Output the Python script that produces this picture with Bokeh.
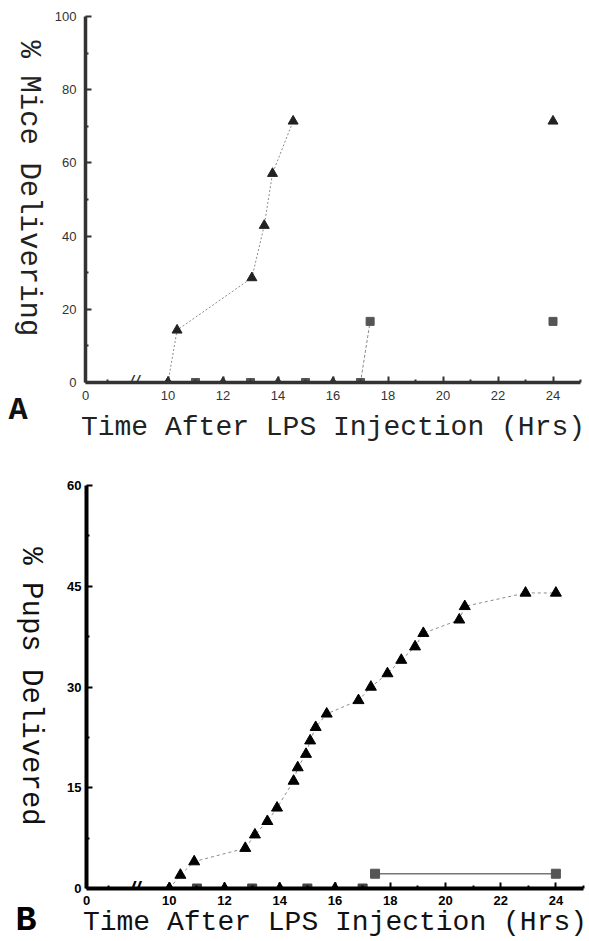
import math
from bokeh.plotting import figure
from bokeh.models import FixedTicker, Label, Range1d
from bokeh.layouts import column, row
from bokeh.core.properties import value
from bokeh.embed import file_html
from bokeh.resources import INLINE

# ---------------- data ----------------
# Panel A: % mice delivering
a_tri_time = [10, 10.33, 13.05, 13.5, 13.8, 14.55]
a_tri_pct = [0, 14.3, 28.6, 42.9, 57.1, 71.4]
a_tri_end_time = [24]
a_tri_end_pct = [71.4]
a_sq_time = [17, 17.35]
a_sq_pct = [0, 16.7]
a_sq_end_time = [24]
a_sq_end_pct = [16.7]

# markers sitting on the zero line (both panels)
zero_tri_time = [10, 12, 14, 16]
zero_tri_pct = [0, 0, 0, 0]
zero_sq_time = [11, 13, 15, 17]
zero_sq_pct = [0, 0, 0, 0]

# Panel B: % pups delivered
b_tri_time = [10, 10.4, 10.9, 12.75, 13.1, 13.55, 13.9, 14.5, 14.65, 14.95, 15.1,
              15.3, 15.7, 16.85, 17.3, 17.9, 18.4, 18.9, 19.2, 20.5, 20.7, 22.9, 24]
b_tri_pct = [0, 2, 4, 6, 8, 10, 12, 16, 18, 20, 22, 24, 26, 28, 30, 32, 34, 36,
             38, 40, 42, 44, 44]
b_sq_time = [17.45, 24]
b_sq_pct = [2.2, 2.2]

# axis ticks (broken time axis: "0" drawn at position 7)
x_major = [7, 10, 12, 14, 16, 18, 20, 22, 24]
x_minor = [7.8, 11, 13, 15, 17, 19, 21, 23, 25]
x_labels = {7: "0"}
a_y_major = [0, 20, 40, 60, 80, 100]
a_y_minor = [10, 30, 50, 70, 90]
b_y_major = [0, 15, 30, 45, 60]
b_y_minor = [7.5, 22.5, 37.5, 52.5]

# texts
x_title = "Time After LPS Injection (Hrs)"
a_y_title = "% Mice Delivering"
b_y_title = "% Pups Delivered"

TITLE_FONT = "Liberation Mono"
TICK_FONT = "Liberation Sans"


def blank(w, h):
    f = figure(width=w, height=h, x_range=Range1d(0, w), y_range=Range1d(0, h),
               output_backend="svg", toolbar_location=None,
               x_axis_location=None, y_axis_location=None,
               min_border=0, min_border_left=0, min_border_right=0,
               min_border_top=0, min_border_bottom=0)
    f.grid.visible = False
    f.outline_line_color = None
    return f


def style_axes(p, color, lw, bold, x_standoff, y_standoff, title_color, title_standoff):
    p.grid.visible = False
    p.outline_line_color = None
    for ax in (p.xaxis[0], p.yaxis[0]):
        ax.axis_line_color = color
        ax.axis_line_width = lw
        ax.major_tick_line_color = color
        ax.minor_tick_line_color = color
        ax.major_tick_line_width = 2
        ax.minor_tick_line_width = 2
        ax.major_tick_in = 6
        ax.major_tick_out = 0
        ax.minor_tick_in = 3
        ax.minor_tick_out = 0
        ax.major_label_text_font = TICK_FONT
        ax.major_label_text_font_size = "13px"
        ax.major_label_text_color = color
        ax.major_label_text_font_style = "bold" if bold else "normal"
    p.xaxis.major_label_standoff = x_standoff
    p.yaxis.major_label_standoff = y_standoff
    p.xaxis.axis_label = x_title
    p.xaxis.axis_label_text_font = TITLE_FONT
    p.xaxis.axis_label_text_font_size = "28px"
    p.xaxis.axis_label_text_font_style = "normal"
    p.xaxis.axis_label_text_color = title_color
    p.xaxis.axis_label_standoff = title_standoff


# ---------------- Panel A ----------------
pA = figure(width=539, height=450, x_range=Range1d(7, 25), y_range=Range1d(0, 100),
            output_backend="svg", toolbar_location=None,
            min_border_left=35, min_border_right=9, min_border_top=16, min_border_bottom=68)
pA.xaxis.ticker = FixedTicker(ticks=x_major, minor_ticks=x_minor)
pA.xaxis.major_label_overrides = x_labels
pA.yaxis.ticker = FixedTicker(ticks=a_y_major, minor_ticks=a_y_minor)
style_axes(pA, "#333333", 3.5, False, 8, 9, "#222222", 9)

pA.line(a_tri_time, a_tri_pct, line_color="#8a8a8a", line_width=1, line_dash="2 2")
pA.line(a_sq_time, a_sq_pct, line_color="#8a8a8a", line_width=1, line_dash="3 2")
pA.scatter(zero_tri_time, zero_tri_pct, marker="triangle", size=10, color="#333333")
pA.scatter(zero_sq_time, zero_sq_pct, marker="square", size=8, color="#555555")
pA.scatter(a_tri_time, a_tri_pct, marker="triangle", size=10, color="#222222")
pA.scatter(a_tri_end_time, a_tri_end_pct, marker="triangle", size=10, color="#222222")
pA.scatter(a_sq_time[1:], a_sq_pct[1:], marker="square", size=8, color="#555555")
pA.scatter(a_sq_end_time, a_sq_end_pct, marker="square", size=8, color="#555555")
pA.add_layout(Label(x=8.75, y=0, text="//", text_align="center", text_baseline="middle",
                    text_font=TICK_FONT, text_font_size="20px", text_font_style="italic",
                    text_color="#333333"))

# left strip of panel A: rotated y title and panel letter (pixel coordinates)
yA = blank(50, 450)
yA.text(x=[28], y=[262], text=[a_y_title], angle=-math.pi / 2, text_align="center",
        text_baseline="middle", text_font=value(TITLE_FONT), text_font_size="29px",
        text_color="#222222")
yA.text(x=[8], y=[40], text=["A"], text_align="left", text_baseline="alphabetic",
        text_font=value(TITLE_FONT), text_font_size="32px", text_font_style="bold",
        text_color="#111111")

panelA = row(yA, column(pA, spacing=0), spacing=0)

# ---------------- Panel B ----------------
pB = figure(width=536, height=491, x_range=Range1d(7, 25), y_range=Range1d(0, 60),
            output_backend="svg", toolbar_location=None,
            min_border_left=33, min_border_right=6, min_border_top=35, min_border_bottom=53)
pB.xaxis.ticker = FixedTicker(ticks=x_major, minor_ticks=x_minor)
pB.xaxis.major_label_overrides = x_labels
pB.yaxis.ticker = FixedTicker(ticks=b_y_major, minor_ticks=b_y_minor)
style_axes(pB, "#000000", 4, True, 7, 5, "#111111", -1)

pB.line(b_tri_time, b_tri_pct, line_color="#8a8a8a", line_width=1, line_dash="3 3")
pB.line(b_sq_time, b_sq_pct, line_color="#777777", line_width=1.5)
pB.scatter(zero_tri_time, zero_tri_pct, marker="triangle", size=11, color="#000000")
pB.scatter(zero_sq_time, zero_sq_pct, marker="square", size=9, color="#444444")
pB.scatter(b_tri_time, b_tri_pct, marker="triangle", size=11, color="#000000")
pB.scatter(b_sq_time, b_sq_pct, marker="square", size=9, color="#555555")
pB.add_layout(Label(x=8.75, y=0, text="//", text_align="center", text_baseline="middle",
                    text_font=TICK_FONT, text_font_size="20px", text_font_style="bold italic",
                    text_color="#000000"))

yB = blank(53, 491)
yB.text(x=[30], y=[255], text=[b_y_title], angle=-math.pi / 2, text_align="center",
        text_baseline="middle", text_font=value(TITLE_FONT), text_font_size="29px",
        text_color="#111111")
yB.text(x=[15], y=[21], text=["B"], text_align="left", text_baseline="alphabetic",
        text_font=value(TITLE_FONT), text_font_size="35px", text_font_style="bold",
        text_color="#000000")

panelB = row(yB, column(pB, spacing=0), spacing=0)

layout = column(panelA, panelB, spacing=0)
open("out.html", "w").write(file_html(layout, INLINE))
